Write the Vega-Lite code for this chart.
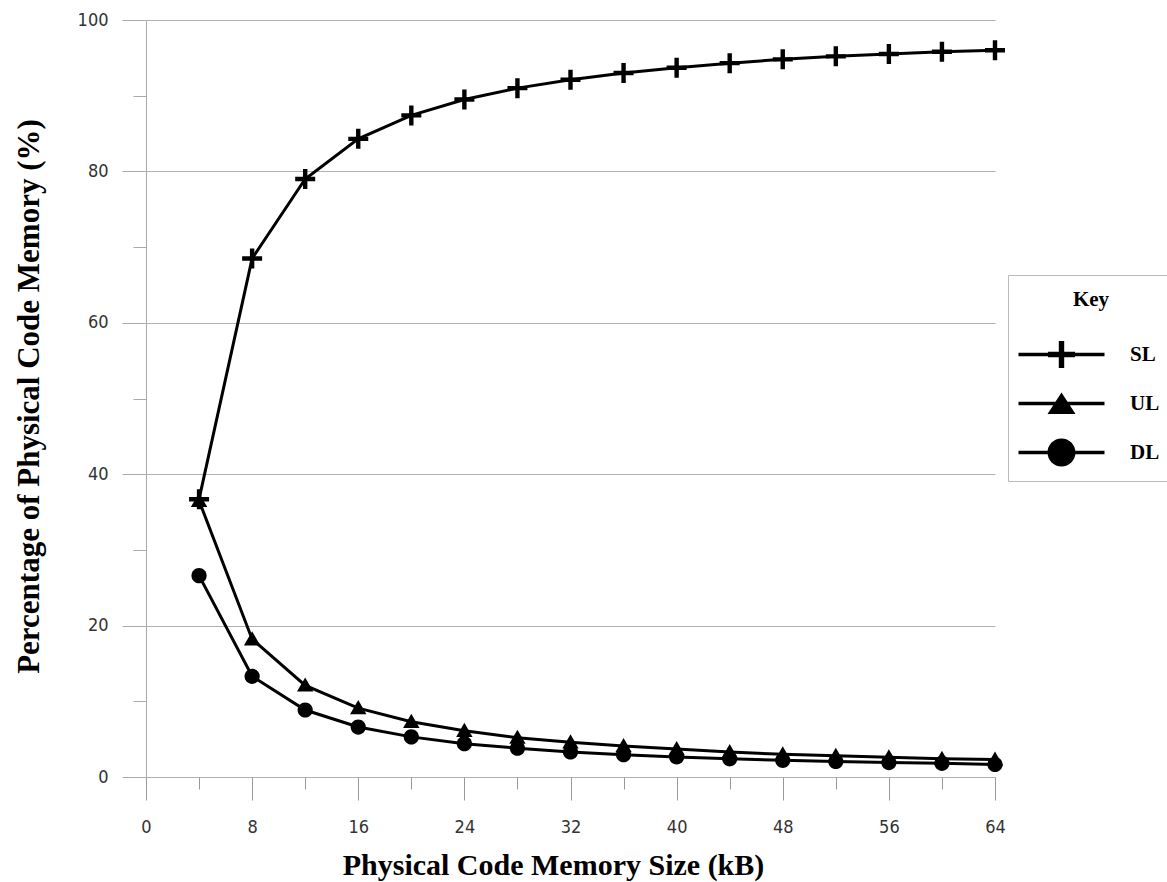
{
  "$schema": "https://vega.github.io/schema/vega-lite/v6.json",
  "width": 849,
  "height": 757,
  "autosize": {"type": "none"},
  "padding": {"left": 146, "top": 20, "right": 172, "bottom": 105},
  "background": "white",
  "data": {
    "values": [
      {"size": 4, "series": "SL", "pct": 36.7},
      {"size": 8, "series": "SL", "pct": 68.5},
      {"size": 12, "series": "SL", "pct": 79.0},
      {"size": 16, "series": "SL", "pct": 84.3},
      {"size": 20, "series": "SL", "pct": 87.4},
      {"size": 24, "series": "SL", "pct": 89.5},
      {"size": 28, "series": "SL", "pct": 91.0},
      {"size": 32, "series": "SL", "pct": 92.1},
      {"size": 36, "series": "SL", "pct": 93.0},
      {"size": 40, "series": "SL", "pct": 93.7},
      {"size": 44, "series": "SL", "pct": 94.3},
      {"size": 48, "series": "SL", "pct": 94.8},
      {"size": 52, "series": "SL", "pct": 95.2},
      {"size": 56, "series": "SL", "pct": 95.5},
      {"size": 60, "series": "SL", "pct": 95.8},
      {"size": 64, "series": "SL", "pct": 96.0},
      {"size": 4, "series": "UL", "pct": 36.5},
      {"size": 8, "series": "UL", "pct": 18.2},
      {"size": 12, "series": "UL", "pct": 12.1},
      {"size": 16, "series": "UL", "pct": 9.1},
      {"size": 20, "series": "UL", "pct": 7.3},
      {"size": 24, "series": "UL", "pct": 6.1},
      {"size": 28, "series": "UL", "pct": 5.2},
      {"size": 32, "series": "UL", "pct": 4.6},
      {"size": 36, "series": "UL", "pct": 4.1},
      {"size": 40, "series": "UL", "pct": 3.7},
      {"size": 44, "series": "UL", "pct": 3.3},
      {"size": 48, "series": "UL", "pct": 3.0},
      {"size": 52, "series": "UL", "pct": 2.8},
      {"size": 56, "series": "UL", "pct": 2.6},
      {"size": 60, "series": "UL", "pct": 2.4},
      {"size": 64, "series": "UL", "pct": 2.3},
      {"size": 4, "series": "DL", "pct": 26.6},
      {"size": 8, "series": "DL", "pct": 13.3},
      {"size": 12, "series": "DL", "pct": 8.85},
      {"size": 16, "series": "DL", "pct": 6.6},
      {"size": 20, "series": "DL", "pct": 5.3},
      {"size": 24, "series": "DL", "pct": 4.4},
      {"size": 28, "series": "DL", "pct": 3.8},
      {"size": 32, "series": "DL", "pct": 3.3},
      {"size": 36, "series": "DL", "pct": 2.95},
      {"size": 40, "series": "DL", "pct": 2.65},
      {"size": 44, "series": "DL", "pct": 2.4},
      {"size": 48, "series": "DL", "pct": 2.2},
      {"size": 52, "series": "DL", "pct": 2.05},
      {"size": 56, "series": "DL", "pct": 1.9},
      {"size": 60, "series": "DL", "pct": 1.8},
      {"size": 64, "series": "DL", "pct": 1.65}
    ]
  },
  "encoding": {
    "x": {
      "field": "size",
      "type": "quantitative",
      "scale": {"domain": [0, 64], "nice": false, "zero": false},
      "axis": {
        "values": [0, 4, 8, 12, 16, 20, 24, 28, 32, 36, 40, 44, 48, 52, 56, 60, 64],
        "labelExpr": "datum.value % 8 === 0 ? datum.label : ''",
        "tickSize": {"condition": {"test": "datum.value % 8 === 0", "value": 23}, "value": 12},
        "tickColor": "#999999",
        "tickWidth": 1,
        "grid": false,
        "domain": false,
        "labelFont": "DejaVu Sans Condensed, DejaVu Sans",
        "labelFontSize": 18,
        "labelColor": "#333333",
        "labelPadding": 18,
        "labelFlush": false,
        "labelOverlap": false,
        "labelBound": false,
        "title": "Physical Code Memory Size (kB)",
        "titleFont": "Liberation Serif",
        "titleFontWeight": "bold",
        "titleFontSize": 30,
        "titleColor": "black",
        "titleX": 407,
        "titleY": 97,
        "titleBaseline": "alphabetic",
        "titleAlign": "center"
      }
    },
    "y": {
      "field": "pct",
      "type": "quantitative",
      "scale": {"domain": [0, 100], "nice": false},
      "axis": {
        "values": [0, 10, 20, 30, 40, 50, 60, 70, 80, 90, 100],
        "labelExpr": "datum.value % 20 === 0 ? datum.label : ''",
        "tickSize": {"condition": {"test": "datum.value % 20 === 0", "value": 24}, "value": 13},
        "tickColor": "#aaaaaa",
        "tickWidth": 1,
        "grid": true,
        "gridColor": "#b0b0b0",
        "gridWidth": 1,
        "gridOpacity": {"condition": {"test": "datum.value % 20 === 0", "value": 1}, "value": 0},
        "domain": true,
        "domainColor": "#aaaaaa",
        "domainWidth": 1,
        "labelFont": "DejaVu Sans Condensed, DejaVu Sans",
        "labelFontSize": 18,
        "labelColor": "#333333",
        "labelPadding": 14,
        "labelFlush": false,
        "labelOverlap": false,
        "labelBound": false,
        "title": "Percentage of Physical Code Memory (%)",
        "titleFont": "Liberation Serif",
        "titleFontWeight": "bold",
        "titleFontSize": 31,
        "titleColor": "black",
        "titleX": -108,
        "titleY": 376,
        "titleAngle": 270,
        "titleBaseline": "alphabetic",
        "titleAlign": "center"
      }
    }
  },
  "layer": [
    {
      "mark": {"type": "line", "color": "black", "strokeWidth": 3},
      "encoding": {"detail": {"field": "series", "type": "nominal"}}
    },
    {
      "mark": {"type": "point", "filled": true, "color": "black", "opacity": 1, "size": 400, "strokeWidth": 0},
      "encoding": {
        "shape": {
          "field": "series",
          "type": "nominal",
          "scale": {
            "domain": ["SL", "UL", "DL"],
            "range": [
              "M-1,-0.22H-0.22V-1H0.22V-0.22H1V0.22H0.22V1H-0.22V0.22H-1Z",
              "M0,-0.8L0.82,0.62H-0.82Z",
              "M-0.76,0A0.76,0.76 0 1,1 0.76,0A0.76,0.76 0 1,1 -0.76,0Z"
            ]
          },
          "legend": null
        }
      }
    },
    {
      "mark": {"type": "point", "filled": true, "color": "black", "opacity": 0, "size": 400, "strokeWidth": 0},
      "encoding": {
        "shape": {
          "field": "series",
          "type": "nominal",
          "scale": {
            "domain": ["SL", "UL", "DL"],
            "range": [
              "M-4.3,-0.18H4.3V0.18H-4.3Z M-1.35,-0.27H-0.27V-1.35H0.27V-0.27H1.35V0.27H0.27V1.35H-0.27V0.27H-1.35Z",
              "M-4.3,-0.18H4.3V0.18H-4.3Z M0,-1.1L1.4,1.05H-1.4Z",
              "M-4.3,-0.18H4.3V0.18H-4.3Z M-1.4,0A1.4,1.4 0 1,1 1.4,0A1.4,1.4 0 1,1 -1.4,0Z"
            ]
          },
          "legend": {
            "orient": "none",
            "legendX": 862,
            "legendY": 255,
            "title": "Key",
            "titleFont": "Liberation Serif",
            "titleFontWeight": "bold",
            "titleFontSize": 21,
            "titleColor": "black",
            "titleAnchor": "middle",
            "titlePadding": 34,
            "labelFont": "Liberation Serif",
            "labelFontWeight": "bold",
            "labelFontSize": 21,
            "labelColor": "black",
            "symbolSize": 400,
            "symbolStrokeWidth": 0,
            "symbolFillColor": "black",
            "symbolOpacity": 1,
            "symbolOffset": 29,
            "labelOffset": 58,
            "rowPadding": 24,
            "padding": 14,
            "strokeColor": "#bbbbbb",
            "fillColor": "white"
          }
        }
      }
    }
  ],
  "resolve": {"scale": {"shape": "independent"}},
  "config": {"view": {"stroke": null}}
}
